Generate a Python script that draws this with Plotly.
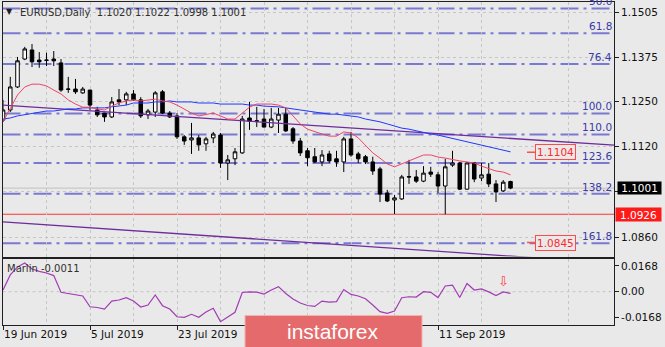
import plotly.graph_objects as go
import pandas as pd

# ---------------- data ----------------
dates = pd.bdate_range("2019-06-19", periods=71)

opens = [1.1196, 1.1225, 1.1291, 1.1371, 1.1397, 1.1368, 1.1367, 1.1371, 1.1360, 1.1284,
         1.1285, 1.1274, 1.1282, 1.1225, 1.1216, 1.1205, 1.1254, 1.1254, 1.1271, 1.1254,
         1.1211, 1.1219, 1.1277, 1.1216, 1.1208, 1.1148, 1.1139, 1.1145, 1.1128, 1.1145,
         1.1153, 1.1073, 1.1085, 1.1102, 1.1202, 1.1194, 1.1199, 1.1176, 1.1196, 1.1213,
         1.1171, 1.1136, 1.1108, 1.1091, 1.1076, 1.1099, 1.1085, 1.1076, 1.1142, 1.1099,
         1.1091, 1.1076, 1.1056, 1.0987, 1.0967, 1.0970, 1.1034, 1.1033, 1.1021, 1.1047,
         1.1039, 1.1007, 1.1067, 1.1073, 1.0998, 1.1073, 1.1030, 1.1041, 1.1013, 1.0993,
         1.1020]
highs = [1.1254, 1.1320, 1.1377, 1.1406, 1.1414, 1.1391, 1.1389, 1.1394, 1.1371, 1.1320,
         1.1314, 1.1291, 1.1283, 1.1234, 1.1217, 1.1262, 1.1285, 1.1277, 1.1282, 1.1262,
         1.1228, 1.1279, 1.1282, 1.1222, 1.1216, 1.1153, 1.1188, 1.1153, 1.1148, 1.1162,
         1.1159, 1.1096, 1.1116, 1.1208, 1.1248, 1.1234, 1.1228, 1.1231, 1.1231, 1.1231,
         1.1176, 1.1145, 1.1116, 1.1116, 1.1110, 1.1108, 1.1108, 1.1148, 1.1162, 1.1105,
         1.1096, 1.1091, 1.1062, 1.0996, 1.0981, 1.1039, 1.1082, 1.1053, 1.1064, 1.1062,
         1.1047, 1.1085, 1.1108, 1.1076, 1.1076, 1.1076, 1.1073, 1.1073, 1.1024, 1.1024,
         1.1022]
lows = [1.1191, 1.1219, 1.1288, 1.1368, 1.1348, 1.1346, 1.1351, 1.1351, 1.1277, 1.1274,
        1.1271, 1.1271, 1.1225, 1.1205, 1.1191, 1.1202, 1.1239, 1.1239, 1.1252, 1.1202,
        1.1199, 1.1205, 1.1213, 1.1202, 1.1142, 1.1125, 1.1099, 1.1108, 1.1108, 1.1130,
        1.1059, 1.1024, 1.1067, 1.1099, 1.1168, 1.1176, 1.1175, 1.1173, 1.1159, 1.1162,
        1.1128, 1.1093, 1.1064, 1.1073, 1.1064, 1.1073, 1.1062, 1.1047, 1.1091, 1.1073,
        1.1070, 1.1039, 1.0961, 1.0961, 1.0926, 1.0967, 1.1013, 1.1016, 1.1018, 1.1033,
        1.0987, 1.0926, 1.1062, 1.0996, 1.0996, 1.1018, 1.1021, 1.1004, 1.0961, 1.0990,
        1.0998]
closes = [1.1225, 1.1291, 1.1366, 1.1400, 1.1363, 1.1363, 1.1368, 1.1366, 1.1282, 1.1285,
          1.1277, 1.1285, 1.1239, 1.1211, 1.1205, 1.1248, 1.1248, 1.1271, 1.1254, 1.1208,
          1.1222, 1.1274, 1.1216, 1.1205, 1.1148, 1.1136, 1.1145, 1.1125, 1.1142, 1.1156,
          1.1073, 1.1082, 1.1105, 1.1199, 1.1193, 1.1193, 1.1176, 1.1199, 1.1213, 1.1165,
          1.1136, 1.1102, 1.1088, 1.1076, 1.1096, 1.1079, 1.1076, 1.1142, 1.1096, 1.1085,
          1.1076, 1.1050, 1.0984, 1.0964, 1.0973, 1.1033, 1.1033, 1.1021, 1.1044, 1.1041,
          1.1007, 1.1062, 1.1073, 1.0998, 1.1073, 1.1027, 1.1039, 1.1013, 1.0990, 1.1018,
          1.1001]

ma_red = [1.1191, 1.1231, 1.1268, 1.1291, 1.1299, 1.1299, 1.1294, 1.1282, 1.1271, 1.1254,
          1.1242, 1.1233, 1.1233, 1.1228, 1.1225, 1.1236, 1.1245, 1.1251, 1.1254, 1.1251,
          1.1254, 1.1256, 1.1251, 1.1248, 1.1239, 1.1228, 1.1216, 1.1208, 1.1211, 1.1216,
          1.1208, 1.1199, 1.1199, 1.1216, 1.1233, 1.1242, 1.1242, 1.1242, 1.1239, 1.1231,
          1.1208, 1.1185, 1.1170, 1.1162, 1.1156, 1.1150, 1.1150, 1.1162, 1.1159, 1.1145,
          1.1125, 1.1102, 1.1087, 1.1070, 1.1062, 1.1070, 1.1079, 1.1087, 1.1096, 1.1096,
          1.1090, 1.1087, 1.1082, 1.1079, 1.1076, 1.1073, 1.1064, 1.1056, 1.1050, 1.1047,
          1.1039]
ma_blue = [1.1199, 1.1202, 1.1208, 1.1211, 1.1216, 1.1219, 1.1222, 1.1222, 1.1225, 1.1228,
           1.1228, 1.1231, 1.1231, 1.1231, 1.1231, 1.1234, 1.1236, 1.1239, 1.1245, 1.1245,
           1.1245, 1.1248, 1.1248, 1.1251, 1.1248, 1.1248, 1.1248, 1.1245, 1.1245, 1.1245,
           1.1242, 1.1242, 1.1242, 1.1242, 1.1239, 1.1239, 1.1236, 1.1236, 1.1234, 1.1231,
           1.1228, 1.1225, 1.1222, 1.1219, 1.1216, 1.1213, 1.1213, 1.1211, 1.1208, 1.1205,
           1.1199, 1.1196, 1.1191, 1.1185, 1.1179, 1.1173, 1.1170, 1.1165, 1.1162, 1.1156,
           1.1153, 1.1148, 1.1145, 1.1139, 1.1133, 1.1130, 1.1125, 1.1119, 1.1113, 1.1110,
           1.1105]
marlin = [0.0011, 0.0109, 0.0161, 0.0187, 0.0148, 0.0132, 0.0122, 0.0105, -0.0004, -0.0013,
          -0.0018, -0.0028, -0.0098, -0.0103, -0.0113, -0.0061, -0.0054, -0.0039, -0.0061, -0.0100,
          -0.0087, -0.0021, -0.0091, -0.0113, -0.0163, -0.0167, -0.0147, -0.0167, -0.0132, -0.0108,
          -0.0195, -0.0165, -0.0134, -0.0005, -0.0001, -0.0003, -0.0015, 0.0011, 0.0033, -0.0012,
          -0.0048, -0.0074, -0.0090, -0.0096, -0.0061, -0.0068, -0.0065, 0.0014, -0.0018, -0.0028,
          -0.0046, -0.0087, -0.0130, -0.0141, -0.0126, -0.0039, -0.0033, -0.0035, 0.0000, -0.0004,
          -0.0038, 0.0037, 0.0042, -0.0038, 0.0053, 0.0011, 0.0018, -0.0001, -0.0025, -0.0001,
          -0.0011]

fib_labels = ["50.0", "61.8", "76.4", "100.0", "110.0", "123.6", "138.2", "161.8"]
fib_prices = [1.1516, 1.1445, 1.1357, 1.1215, 1.1155, 1.1073, 1.0985, 1.0843]

trend_idx = [0, 84.3]
trend_upper = [1.1239, 1.1124]
trend_lower = [1.0904, 1.0786]

support_level = 1.0926
last_price = 1.1001
target_labels = [1.1104, 1.0845]
signal_bar = 69
signal_value = 0.0065

price_ticks = [1.1505, 1.1375, 1.1250, 1.1120, 1.0990, 1.0860]
price_ticktext = ["1.1505", "1.1375", "1.1250", "1.1120", "", "1.0860"]
osc_ticks = [0.0168, 0.0, -0.0168]
osc_ticktext = ["0.0168", "0.00", "-0.0168"]
label_bars = [0, 12, 24, 36, 48, 60]
shown_label_bars = [0, 12, 24, 60]
grid_bars = [6, 18, 30, 42, 54, 66, 78]

title_text = "EURUSD,Daily  1.1020 1.1022 1.0998 1.1001"
osc_title = "Marlin -0.0011"
logo_text = "instaforex"

# ---------------- figure ----------------
W, H = 665, 347
FONT = "DejaVu Sans"
BG = "#e9e9e9"
GRID = "#c6c6c6"
AX = "#202020"


def px(x):
    return x / W


def py(y):
    return 1 - y / H


idx = list(range(len(dates)))

fig = go.Figure()

fig.add_trace(go.Scatter(x=trend_idx, y=trend_upper, mode="lines",
                         line=dict(color="#6e2c9c", width=1.3), xaxis="x", yaxis="y",
                         hoverinfo="skip"))
fig.add_trace(go.Scatter(x=trend_idx, y=trend_lower, mode="lines",
                         line=dict(color="#6e2c9c", width=1.3), xaxis="x", yaxis="y",
                         hoverinfo="skip"))

fig.add_trace(go.Candlestick(
    x=idx, open=opens, high=highs, low=lows, close=closes,
    increasing=dict(fillcolor="#ffffff", line=dict(color="#000000", width=1)),
    decreasing=dict(fillcolor="#000000", line=dict(color="#000000", width=1)),
    whiskerwidth=0, xaxis="x", yaxis="y", hoverinfo="skip"))

fig.add_trace(go.Scatter(x=idx, y=ma_blue, mode="lines",
                         line=dict(color="#2038ff", width=1), xaxis="x", yaxis="y",
                         hoverinfo="skip"))
fig.add_trace(go.Scatter(x=idx, y=ma_red, mode="lines",
                         line=dict(color="#ee4466", width=1), xaxis="x", yaxis="y",
                         hoverinfo="skip"))

fig.add_trace(go.Scatter(x=idx, y=marlin, mode="lines",
                         line=dict(color="#a23cb4", width=1.2), xaxis="x2", yaxis="y2",
                         hoverinfo="skip"))

x_left, x_right = 2.5, 614.0
bar_w = 7.25
x_range = [(x_left - 3) / bar_w, (x_right - 3) / bar_w]
main_top, main_bot = 1.5, 256.5
osc_top, osc_bot = 259.0, 324.5

ppx = 0.0002867
p_top = 1.15403 - ppx * main_top
p_bot = 1.15403 - ppx * main_bot

osc_scale = 1536.0
o_top = (291.7 - osc_top) / osc_scale
o_bot = (291.7 - osc_bot) / osc_scale

common_x = dict(range=x_range, showgrid=True, gridcolor=GRID, griddash="3px,3px",
                gridwidth=1, zeroline=False, showline=True, mirror=True,
                linecolor=AX, linewidth=1, tickmode="array", tickvals=label_bars,
                minor=dict(tickvals=grid_bars, showgrid=True, gridcolor=GRID,
                           griddash="3px,3px", ticks=""))

date_text = [dates[i].strftime("%-d %b %Y") if i in shown_label_bars else ""
             for i in label_bars]

fig.update_layout(
    width=W, height=H, margin=dict(l=0, r=0, t=0, b=0),
    paper_bgcolor=BG, plot_bgcolor=BG, showlegend=False,
    font=dict(family=FONT, size=10.5, color="#101010"),
    xaxis=dict(domain=[px(x_left), px(x_right)], anchor="y", showticklabels=False,
               ticks="", rangeslider=dict(visible=False), **common_x),
    xaxis2=dict(domain=[px(x_left), px(x_right)], anchor="y2", matches="x",
                ticktext=date_text,
                ticks="outside", ticklen=4, tickcolor=AX,
                ticklabelposition="outside right",
                tickfont=dict(family=FONT, size=10.5, color="#101010"), **common_x),
    yaxis=dict(domain=[py(main_bot), py(main_top)], anchor="x", side="right",
               range=[p_bot, p_top], tickmode="array", tickvals=price_ticks,
               ticktext=price_ticktext, ticks="outside", ticklen=4, tickcolor=AX,
               showgrid=True, gridcolor=GRID, griddash="3px,3px", zeroline=False,
               showline=True, mirror=True, linecolor=AX, linewidth=1,
               tickfont=dict(family=FONT, size=10.5, color="#101010")),
    yaxis2=dict(domain=[py(osc_bot), py(osc_top)], anchor="x2", side="right",
                range=[o_bot, o_top], tickmode="array", tickvals=osc_ticks,
                ticktext=osc_ticktext, ticks="outside", ticklen=4, tickcolor=AX,
                showgrid=False, zeroline=False, showline=True, mirror=True,
                linecolor=AX, linewidth=1,
                tickfont=dict(family=FONT, size=10.5, color="#101010")),
)

shapes = []
for p in fib_prices:
    shapes.append(dict(type="line", xref="paper", yref="y", x0=px(x_left), x1=px(x_right),
                       y0=p, y1=p,
                       line=dict(color="rgba(92,92,204,0.8)", width=2,
                                 dash="18px,5px,3px,5px"), layer="below"))
shapes.append(dict(type="line", xref="paper", yref="y", x0=px(x_left), x1=px(x_right),
                   y0=last_price, y1=last_price, line=dict(color="#c2c2c2", width=1),
                   layer="below"))
shapes.append(dict(type="line", xref="paper", yref="y", x0=px(x_left), x1=px(x_right),
                   y0=support_level, y1=support_level,
                   line=dict(color="#ff3333", width=1.2), layer="below"))
for p in target_labels:
    shapes.append(dict(type="line", xref="paper", yref="y", x0=px(527), x1=px(535),
                       y0=p, y1=p, line=dict(color="#ff5050", width=1.5)))
shapes.append(dict(type="line", xref="paper", yref="y2", x0=px(x_left), x1=px(x_right),
                   y0=0, y1=0, line=dict(color=GRID, width=1, dash="3px,3px"),
                   layer="below"))
shapes.append(dict(type="rect", xref="paper", yref="paper", x0=px(245), x1=px(422),
                   y0=py(347.5), y1=py(315.5), fillcolor="#e46a6c",
                   line=dict(color="#f4b0b0", width=1), layer="above"))
fig.update_layout(shapes=shapes)

ann = []
ann.append(dict(xref="paper", yref="paper", x=px(9.5), y=py(11.5), text="▼",
                showarrow=False, font=dict(family=FONT, size=8, color="#202020"),
                xanchor="center", yanchor="middle"))
ann.append(dict(xref="paper", yref="paper", x=px(18), y=py(12), text=title_text,
                showarrow=False, font=dict(family=FONT, size=10, color="#303030"),
                xanchor="left", yanchor="middle"))
for lab, p in zip(fib_labels, fib_prices):
    ann.append(dict(xref="paper", yref="y", x=px(613), y=p, text=lab, showarrow=False,
                    font=dict(family=FONT, size=10.5, color="#3a3aa8"),
                    xanchor="right", yanchor="bottom", borderpad=0))
for p in target_labels:
    ann.append(dict(xref="paper", yref="y", x=px(535), y=p, text=f"{p:.4f}",
                    showarrow=False, font=dict(family=FONT, size=10.5, color="#ff2a2a"),
                    xanchor="left", yanchor="middle", bordercolor="#ff4a4a",
                    borderwidth=1, borderpad=1, bgcolor=BG))
ann.append(dict(xref="paper", yref="y", x=px(616.5), y=last_price, text=f"{last_price:.4f}",
                showarrow=False, font=dict(family=FONT, size=10.5, color="#ffffff"),
                xanchor="left", yanchor="middle", bgcolor="#000000", borderpad=0,
                width=43, height=12))
ann.append(dict(xref="paper", yref="y", x=px(615), y=support_level,
                text=f"{support_level:.4f}", showarrow=False,
                font=dict(family=FONT, size=10.5, color="#ffffff"),
                xanchor="left", yanchor="middle", bgcolor="#ff1a1a", borderpad=0,
                width=45, height=13))
ann.append(dict(xref="paper", yref="paper", x=px(5), y=py(268.5), text=osc_title,
                showarrow=False, font=dict(family=FONT, size=10, color="#303030"),
                xanchor="left", yanchor="middle"))
ann.append(dict(xref="x2", yref="y2", x=signal_bar, y=signal_value, text="⇩",
                showarrow=False, font=dict(family=FONT, size=13, color="#ff4040"),
                xanchor="center", yanchor="middle"))
ann.append(dict(xref="paper", yref="paper", x=px(333), y=py(331), text=logo_text,
                showarrow=False, font=dict(family="Liberation Sans", size=21,
                                           color="#ffffff"),
                xanchor="center", yanchor="middle"))
fig.update_layout(annotations=ann)

fig.write_html("out.html")
